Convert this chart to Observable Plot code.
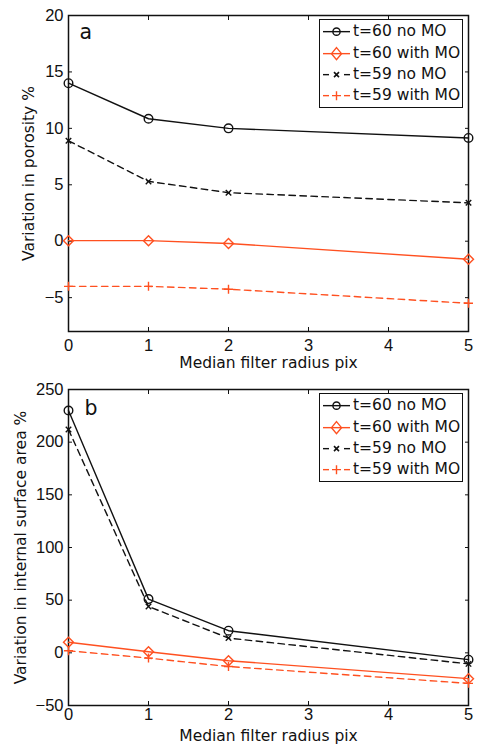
<!DOCTYPE html>
<html><head><meta charset="utf-8">
<script src="https://cdn.jsdelivr.net/npm/d3@7"></script>
<script src="https://cdn.jsdelivr.net/npm/@observablehq/plot@0.6"></script>
<style>
body{margin:0;background:#fff}
#wrap{position:relative;width:477px;height:746px;background:#fff;overflow:hidden}
.panel{position:absolute;left:0}
.panel svg{overflow:visible;display:block}
.legend{position:absolute;box-sizing:border-box;border:1.3px solid #111;background:#fff;width:144px;height:89px;font-family:"DejaVu Sans",sans-serif;font-size:15.5px;color:#111}
.row{position:absolute;left:0;width:140px;height:21.3px;line-height:21.3px;white-space:nowrap}
.row svg{position:absolute;left:0;top:0}
.row span{position:absolute;left:33px;top:0}
</style></head><body>
<div id="wrap"></div>
<script>
// ---- data ----
const radius = [0, 1, 2, 5];
const seriesNames = ["t=60 no MO", "t=60 with MO", "t=59 no MO", "t=59 with MO"];

const porosityT60NoMO   = [14.0, 10.85, 10.0, 9.15];
const porosityT60WithMO = [0.05, 0.05, -0.2, -1.6];
const porosityT59NoMO   = [8.9, 5.3, 4.3, 3.4];
const porosityT59WithMO = [-4.0, -4.0, -4.25, -5.5];

const areaT60NoMO   = [230, 51, 21, -6.5];
const areaT60WithMO = [10, 1, -7.5, -24.5];
const areaT59NoMO   = [212, 44, 14, -10.5];
const areaT59WithMO = [2, -5, -13, -29];

const xTicks = [0, 1, 2, 3, 4, 5];
const porosityTicks = [-5, 0, 5, 10, 15, 20];
const areaTicks = [-50, 0, 50, 100, 150, 200, 250];
const porosityDomain = [-8, 20];
const areaDomain = [-50, 250];
const xLabel = "Median filter radius pix";

// ---- styles ----
const RED = "#ff5020", BLACK = "#111";
const styles = [
  {stroke: BLACK, dash: null, symbol: "circle", r: 4.3},
  {stroke: RED, dash: null, symbol: "diamond2", r: 4.5},
  {stroke: BLACK, dash: "6.5,4.5", symbol: "times", r: 2.6},
  {stroke: RED, dash: "6.5,4.5", symbol: "plus", r: 3}
];
const tickFont = {fontSize: 16.5, fontFamily: "Liberation Sans, Arial, sans-serif", fill: BLACK};
const labelFont = {fontSize: 15.5, fontFamily: "DejaVu Sans, sans-serif", fill: BLACK};

function rows(values) { return radius.map((x, i) => ({x, y: values[i]})); }

function panel(o) {
  const marks = [
    Plot.frame({stroke: BLACK, strokeWidth: 1.5}),
    Plot.axisX(xTicks, {anchor: "bottom", tickSize: 0, tickPadding: o.xTickPadding, label: null, ...tickFont}),
    Plot.axisX(xTicks, {anchor: "bottom", tickSize: -4, tickFormat: () => "", label: null, stroke: BLACK}),
    Plot.axisX(xTicks, {anchor: "top", tickSize: -4, tickFormat: () => "", label: null, stroke: BLACK}),
    Plot.axisY(o.yTicks, {anchor: "left", tickSize: 0, tickPadding: 5, label: null, ...tickFont}),
    Plot.axisY(o.yTicks, {anchor: "left", tickSize: -4, tickFormat: () => "", label: null, stroke: BLACK}),
    Plot.axisY(o.yTicks, {anchor: "right", tickSize: -4, tickFormat: () => "", label: null, stroke: BLACK})
  ];
  o.series.forEach((vals, i) => {
    const s = styles[i];
    marks.push(Plot.line(rows(vals), {x: "x", y: "y", stroke: s.stroke, strokeWidth: 1.4, strokeDasharray: s.dash}));
  });
  o.series.forEach((vals, i) => {
    const s = styles[i];
    marks.push(Plot.dot(rows(vals), {x: "x", y: "y", symbol: s.symbol, r: s.r, stroke: s.stroke, fill: "none", strokeWidth: 1.4}));
  });
  marks.push(Plot.text([o.letter], {frameAnchor: "top-left", textAnchor: "start", lineAnchor: "top", dx: o.letterDx, dy: o.letterDy, fontSize: 20.5, fontFamily: "DejaVu Sans, sans-serif", fill: BLACK}));
  marks.push(Plot.text([o.ylabel], {frameAnchor: "left", rotate: -90, textAnchor: "middle", lineAnchor: "middle", dx: o.ylabelDx, ...labelFont}));
  marks.push(Plot.text([xLabel], {frameAnchor: "bottom", textAnchor: "middle", lineAnchor: "bottom", dy: o.xlabelDy, ...labelFont}));
  return Plot.plot({
    width: 477, height: 373,
    marginLeft: 68, marginRight: 9, marginTop: o.marginTop, marginBottom: o.marginBottom,
    x: {domain: [0, 5], label: null},
    y: {domain: o.yDomain, label: null},
    marks
  });
}

function legend(left, top) {
  const lg = document.createElement("div");
  lg.className = "legend";
  lg.style.left = left + "px";
  lg.style.top = top + "px";
  seriesNames.forEach((name, i) => {
    const s = styles[i];
    const row = document.createElement("div");
    row.className = "row";
    row.style.top = (1.4 + i * 21.3) + "px";
    const cy = 10.65, cx = 16.5;
    let lineSvg;
    if (s.dash) {
      lineSvg = `<line x1="3" x2="9" y1="${cy}" y2="${cy}" stroke="${s.stroke}" stroke-width="1.4"/>` +
                `<line x1="24" x2="30" y1="${cy}" y2="${cy}" stroke="${s.stroke}" stroke-width="1.4"/>`;
    } else {
      lineSvg = `<line x1="3" x2="30" y1="${cy}" y2="${cy}" stroke="${s.stroke}" stroke-width="1.4"/>`;
    }
    let mk = "";
    if (s.symbol === "circle") mk = `<circle cx="${cx}" cy="${cy}" r="3.6" fill="none" stroke="${s.stroke}" stroke-width="1.4"/>`;
    else if (s.symbol === "diamond2") mk = `<path d="M${cx},${cy-6}L${cx+5},${cy}L${cx},${cy+6}L${cx-5},${cy}Z" fill="none" stroke="${s.stroke}" stroke-width="1.4"/>`;
    else if (s.symbol === "times") mk = `<path d="M${cx-2.5},${cy-2.5}L${cx+2.5},${cy+2.5}M${cx-2.5},${cy+2.5}L${cx+2.5},${cy-2.5}" stroke="${s.stroke}" stroke-width="1.6"/>`;
    else mk = `<path d="M${cx-4.5},${cy}L${cx+4.5},${cy}M${cx},${cy-4.5}L${cx},${cy+4.5}" stroke="${s.stroke}" stroke-width="1.4"/>`;
    row.innerHTML = `<svg width="34" height="21.3">${lineSvg}${mk}</svg><span>${name}</span>`;
    lg.appendChild(row);
  });
  return lg;
}

const wrap = document.getElementById("wrap");

const pa = document.createElement("div");
pa.className = "panel"; pa.style.top = "0px";
pa.appendChild(panel({
  series: [porosityT60NoMO, porosityT60WithMO, porosityT59NoMO, porosityT59WithMO],
  yDomain: porosityDomain, yTicks: porosityTicks,
  letter: "a", letterDx: 11, letterDy: 9,
  ylabel: "Variation in porosity %", ylabelDx: -39,
  xTickPadding: 8, xlabelDy: 36, marginTop: 15, marginBottom: 42
}));
wrap.appendChild(pa);

const pb = document.createElement("div");
pb.className = "panel"; pb.style.top = "373px";
pb.appendChild(panel({
  series: [areaT60NoMO, areaT60WithMO, areaT59NoMO, areaT59WithMO],
  yDomain: areaDomain, yTicks: areaTicks,
  letter: "b", letterDx: 16, letterDy: 11,
  ylabel: "Variation in internal surface area %", ylabelDx: -47,
  xTickPadding: 2.5, xlabelDy: 35, marginTop: 16, marginBottom: 41
}));
wrap.appendChild(pb);

wrap.appendChild(legend(319, 19));
wrap.appendChild(legend(319, 393));
</script>
</body></html>
